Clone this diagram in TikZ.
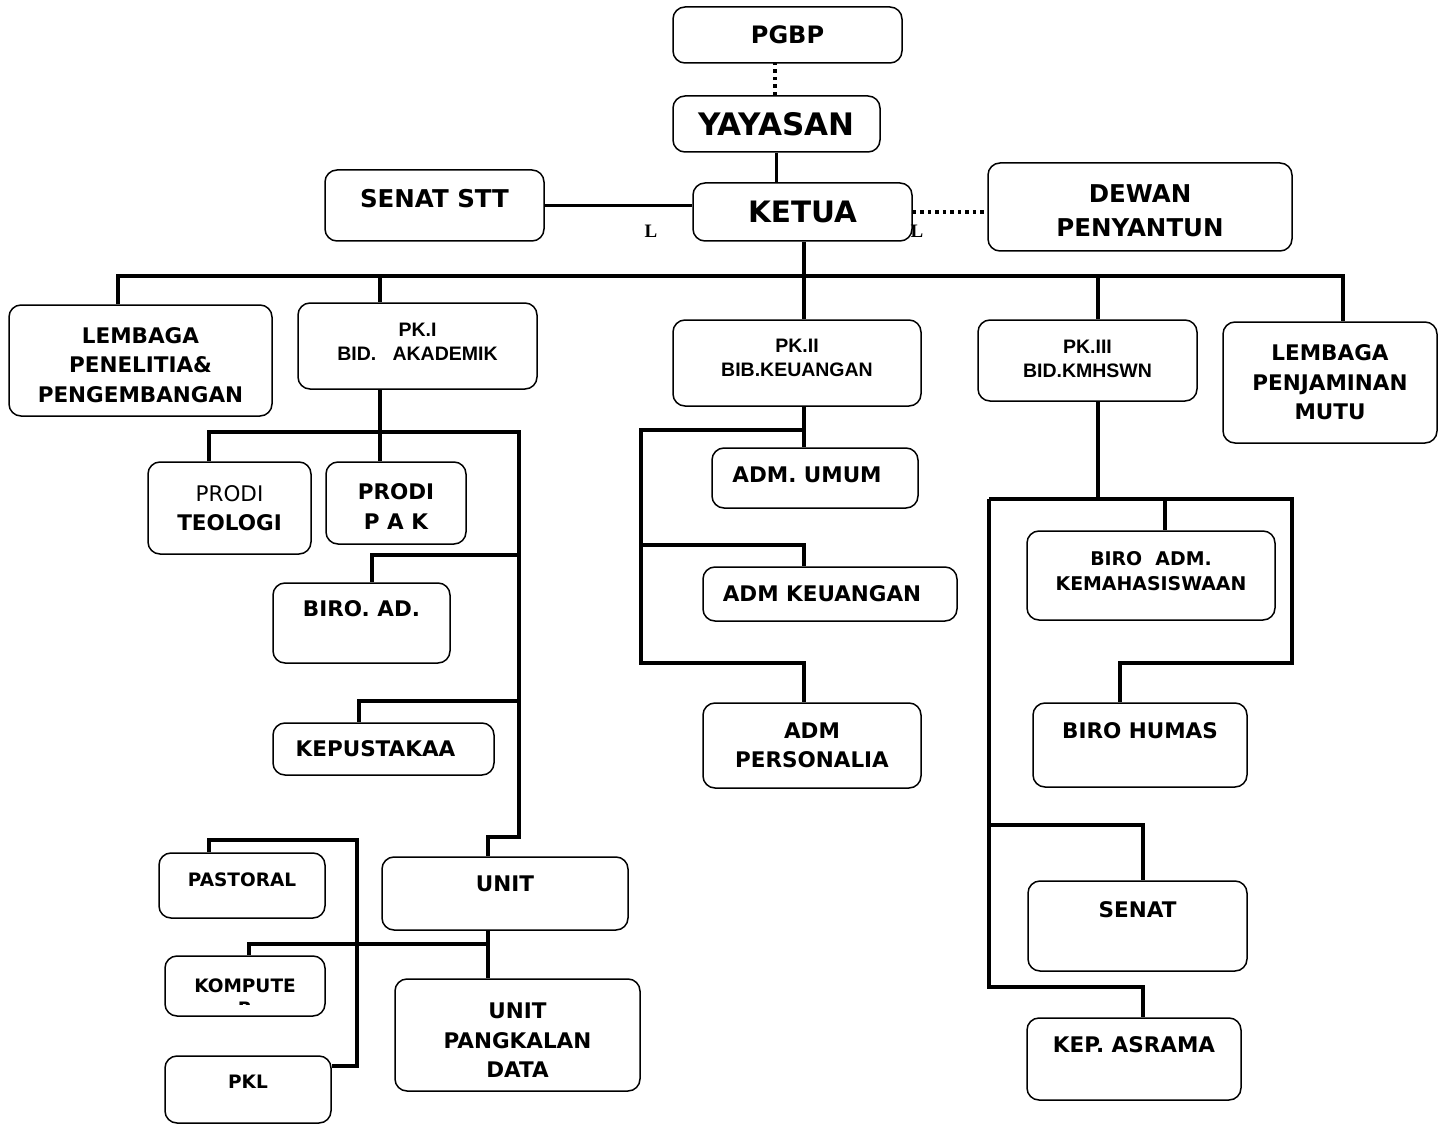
\documentclass[tikz,border=0pt]{standalone}
\usepackage{fontspec}
\setmainfont{DejaVu Sans}
\newfontfamily\arialfont{Liberation Sans}
\newfontfamily\timesfont{Liberation Serif}
\usetikzlibrary{positioning}

\tikzset{
    orgbox/.style={draw, rounded corners=12pt, line width=1.5pt, align=center,
        inner sep=0pt, font=\bfseries\fontsize{21.5}{29.5}\selectfont},
    bigbox/.style={orgbox, font=\bfseries\fontsize{24.5}{34}\selectfont},
    pkbox/.style={orgbox, font=\arialfont\bfseries\fontsize{19.5}{24}\selectfont},
    smallbox/.style={orgbox, font=\bfseries\fontsize{18.5}{27}\selectfont},
    conn/.style={line width=3.8pt, line join=miter},
    dotconn/.style={line width=3.8pt, dash pattern=on 3.5pt off 4pt},
    markL/.style={font=\timesfont\bfseries\fontsize{19}{19}\selectfont},
}

\begin{document}
\begin{tikzpicture}[x=1pt, y=-1pt]
    \useasboundingbox (0,0) rectangle (1446,1126);

    % top of the chart
    \node [orgbox, minimum width=229, minimum height=56, font=\bfseries\fontsize{24}{30}\selectfont] (pgbp) at (787.5,35) {PGBP};
    \node [orgbox, minimum width=207, minimum height=56, font=\bfseries\fontsize{31}{34}\selectfont] (yayasan) at (776.5,124) {YAYASAN};
    \node [orgbox, minimum width=219, minimum height=58, font=\bfseries\fontsize{29.5}{32}\selectfont] (ketua) at (802.5,212) {KETUA};
    \node [bigbox, minimum width=219, minimum height=71] (senatstt) at (434.5,205.5) {SENAT STT\\[-20pt]~};
    \node [bigbox, minimum width=304, minimum height=88] (dewan) at (1140,207) {~\\[-9.5pt]DEWAN\\PENYANTUN};
    \node [markL] (markLeft) at (651,231) {L};
    \node [markL] (markRight) at (917,231) {L};

    \draw [dotconn] (yayasan.north -| 775,0) -- (775,63);
    \draw [conn] (yayasan.south) -- (yayasan.south |- ketua.north);
    \draw [conn] (senatstt.east) -- (senatstt.east -| ketua.west);
    \draw [dotconn] (ketua.east) -- (ketua.east -| dewan.west);

    % second row
    \node [orgbox, minimum width=263, minimum height=111] (penelitian) at (140.5,360.5) {~\\[-5pt]LEMBAGA\\PENELITIA\&\\PENGEMBANGAN};
    \node [pkbox, minimum width=239, minimum height=86] (pk1) at (417.5,346) {PK.I\\BID.\ \ \ AKADEMIK\\[-16pt]~};
    \node [pkbox, minimum width=248, minimum height=86] (pk2) at (797,363) {PK.II\\BIB.KEUANGAN\\[-14pt]~};
    \node [pkbox, minimum width=219, minimum height=81] (pk3) at (1087.5,360.5) {PK.III\\BID.KMHSWN\\[-20pt]~};
    \node [orgbox, minimum width=214, minimum height=121] (mutu) at (1330,382.5) {LEMBAGA\\PENJAMINAN\\MUTU};

    \coordinate (busW) at (118,276);
    \coordinate (busE) at (1343,276);
    \coordinate (b1) at (380,276);
    \coordinate (b2) at (804,276);
    \coordinate (b3) at (1098,276);
    \draw [conn] (ketua.south -| b2) -- (b2);
    \draw [conn] (penelitian.north -| busW) -- (busW) -- (busE) -- (busE |- mutu.north);
    \draw [conn] (b1) -- (b1 |- pk1.north);
    \draw [conn] (b2) -- (b2 |- pk2.north);
    \draw [conn] (b3) -- (b3 |- pk3.north);

    % PK.I bidang akademik
    \node [orgbox, minimum width=163, minimum height=92] (teologi) at (229.5,508) {{\mdseries PRODI}\\TEOLOGI};
    \node [orgbox, minimum width=140, minimum height=82] (pak) at (396,503) {~\\[-7pt]PRODI\\P A K};
    \node [orgbox, minimum width=177, minimum height=80] (biroad) at (361.5,623) {BIRO. AD.\\~};
    \node [orgbox, minimum width=221, minimum height=52] (pustaka) at (383.5,749) {KEPUSTAKAA\hspace*{16pt}};
    \node [orgbox, minimum width=246, minimum height=73] (unit) at (505,893.5) {UNIT\\[-10pt]~};
    \node [orgbox, minimum width=245, minimum height=112] (pangkalan) at (517.5,1035) {~\\[-3pt]UNIT\\PANGKALAN\\DATA};
    \node [smallbox, minimum width=166, minimum height=65] (pastoral) at (242,885.5) {PASTORAL\\[-16pt]~};
    \node [smallbox, minimum width=160, minimum height=60] (komputer) at (245,986) {KOMPUTE};
    \begin{scope}
        \clip (165,956) rectangle (325,1004);
        \node [font=\bfseries\fontsize{18.5}{27}\selectfont] (komputerR) at (245,1009) {R};
    \end{scope}
    \node [smallbox, minimum width=166, minimum height=67] (pkl) at (248,1089.5) {PKL\\[-12pt]~};

    \coordinate (j1) at (380,432);
    \coordinate (j1w) at (209,432);
    \coordinate (j1e) at (519,432);
    \coordinate (j1s) at (519,837);
    \coordinate (ju) at (488,837);
    \draw [conn] (j1 |- pk1.south) -- (j1 |- pak.north);
    \draw [conn] (j1w |- teologi.north) -- (j1w) -- (j1e) -- (j1s) -- (ju) -- (ju |- unit.north);
    \coordinate (jb) at (372,555);
    \draw [conn] (j1e |- jb) -- (jb) -- (jb |- biroad.north);
    \coordinate (jk) at (359,701);
    \draw [conn] (j1e |- jk) -- (jk) -- (jk |- pustaka.north);

    % units below UNIT
    \coordinate (ju2) at (488,944);
    \coordinate (jkom) at (249,944);
    \draw [conn] (ju2 |- unit.south) -- (ju2 |- pangkalan.north);
    \draw [conn] (ju2) -- (jkom) -- (jkom |- komputer.north);
    \coordinate (jp) at (209,840);
    \coordinate (jpe) at (357,840);
    \coordinate (jpkl) at (357,1066);
    \draw [conn] (jp |- pastoral.north) -- (jp) -- (jpe) -- (jpkl) -- (jpkl -| pkl.east);

    % PK.II bidang keuangan
    \node [orgbox, minimum width=206, minimum height=60] (umum) at (815,478) {ADM. UMUM\hspace*{16pt}\\[-22pt]~};
    \node [orgbox, minimum width=254, minimum height=54] (keuangan) at (830,594) {ADM KEUANGAN\hspace*{16pt}};
    \node [orgbox, minimum width=218, minimum height=85] (personalia) at (812,745.5) {ADM\\PERSONALIA};

    \coordinate (j2) at (804,430);
    \coordinate (j2w) at (641,430);
    \coordinate (j2a) at (641,545);
    \coordinate (j2b) at (641,663);
    \draw [conn] (j2 |- pk2.south) -- (j2 |- umum.north);
    \draw [conn] (j2) -- (j2w) -- (j2b) -- (j2b -| j2) -- (j2 |- personalia.north);
    \draw [conn] (j2a) -- (j2a -| j2) -- (j2 |- keuangan.north);

    % PK.III bidang kemahasiswaan
    \node [orgbox, minimum width=248, minimum height=89, font=\bfseries\fontsize{18.9}{25}\selectfont] (kemahasiswaan) at (1151,575.5) {BIRO\ \ ADM.\\KEMAHASISWAAN\\[-16pt]~};
    \node [orgbox, minimum width=214, minimum height=84] (humas) at (1140,745) {BIRO HUMAS\\~};
    \node [orgbox, minimum width=219, minimum height=90] (senat) at (1137.5,926) {SENAT\\[4pt]~};
    \node [orgbox, minimum width=214, minimum height=82] (asrama) at (1134,1059) {KEP. ASRAMA\\~};

    \coordinate (j3) at (1098,499);
    \coordinate (j3w) at (989,499);
    \coordinate (j3e) at (1292,499);
    \coordinate (j3k) at (1165,499);
    \coordinate (j3h) at (1120,663);
    \coordinate (j3s) at (1143,825);
    \coordinate (j3a) at (1143,987);
    \draw [conn] (j3 |- pk3.south) -- (j3);
    \draw [conn] (j3k) -- (j3k |- kemahasiswaan.north);
    \draw [conn] (j3w) -- (j3e) -- (j3e |- j3h) -- (j3h) -- (j3h |- humas.north);
    \draw [conn] (j3w) -- (j3w |- j3a) -- (j3a) -- (j3a |- asrama.north);
    \draw [conn] (j3w |- j3s) -- (j3s) -- (j3s |- senat.north);

\end{tikzpicture}
\end{document}
